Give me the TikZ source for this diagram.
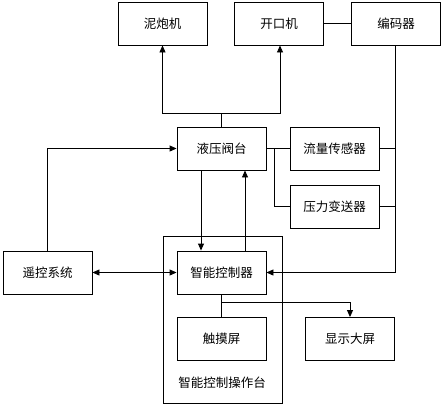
\documentclass[tikz,border=0pt]{standalone}
\usepackage{fontspec}
\newfontfamily\cjk{Noto Sans CJK SC}
\usetikzlibrary{arrows.meta}
\begin{document}
\begin{tikzpicture}[x=1pt,y=-1pt,
  box/.style={draw,line width=0.9pt,minimum width=89pt,minimum height=43pt,inner sep=0pt,font=\cjk\fontsize{12.5}{14}\selectfont},
  conn/.style={line width=0.9pt},
  arr/.style={conn,-{Triangle[length=7pt,width=6pt]}},
  darr/.style={conn,{Triangle[length=7pt,width=6pt]}-{Triangle[length=7pt,width=6pt]}}]
\useasboundingbox (0,0) rectangle (443,407);
\draw[line width=0.9pt] (163,236) rectangle (282,403);
\node[font=\cjk\fontsize{12.5}{14}\selectfont] (tai) at (222,383) {智能控制操作台};
\node[box] (nipao) at (162.5,23.5) {泥炮机};
\node[box] (kaikou) at (279,23.5) {开口机};
\node[box] (bianma) at (396,23.5) {编码器};
\node[box] (yeya) at (221.5,148.5) {液压阀台};
\node[box] (liuliang) at (334.5,148.5) {流量传感器};
\node[box] (yali) at (334.5,206.5) {压力变送器};
\node[box] (yaokong) at (47.5,272.5) {遥控系统};
\node[box] (zhineng) at (221.5,272.5) {智能控制器};
\node[box] (chumo) at (221.5,339) {触摸屏};
\node[box] (xianshi) at (350,339) {显示大屏};
\coordinate (top) at (221.5,113);
\coordinate (br) at (274,148.5);
\coordinate (sp) at (221.5,302);
% 液压阀台 to 泥炮机, 开口机
\draw[conn] (yeya.north) -- (top);
\draw[arr] (top) -| (nipao.south);
\draw[arr] (top) -| (kaikou.south -| 280,0);
% 开口机 - 编码器
\draw[conn] (kaikou.east) -- (bianma.west);
% 编码器 to 智能控制器
\draw[arr] (bianma.south -| 395,0) |- (zhineng.east);
\draw[conn] (liuliang.east) -- (liuliang.east -| 395,0);
\draw[conn] (yali.east) -- (yali.east -| 395,0);
% 液压阀台 to sensors
\draw[conn] (yeya.east) -- (liuliang.west);
\draw[conn] (br) |- (yali.west);
% 遥控系统 to 液压阀台
\draw[arr] (yaokong.north) |- (yeya.west);
% 液压阀台 <-> 智能控制器
\draw[arr] (yeya.south -| 201,0) -- (zhineng.north -| 201,0);
\draw[arr] (zhineng.north -| 245,0) -- (yeya.south -| 245,0);
% 遥控系统 <-> 智能控制器
\draw[darr] (yaokong.east) -- (zhineng.west);
% 智能控制器 to 触摸屏 and 显示大屏
\draw[conn] (zhineng.south) -- (chumo.north);
\draw[arr] (sp) -| (xianshi.north);
\end{tikzpicture}
\end{document}
